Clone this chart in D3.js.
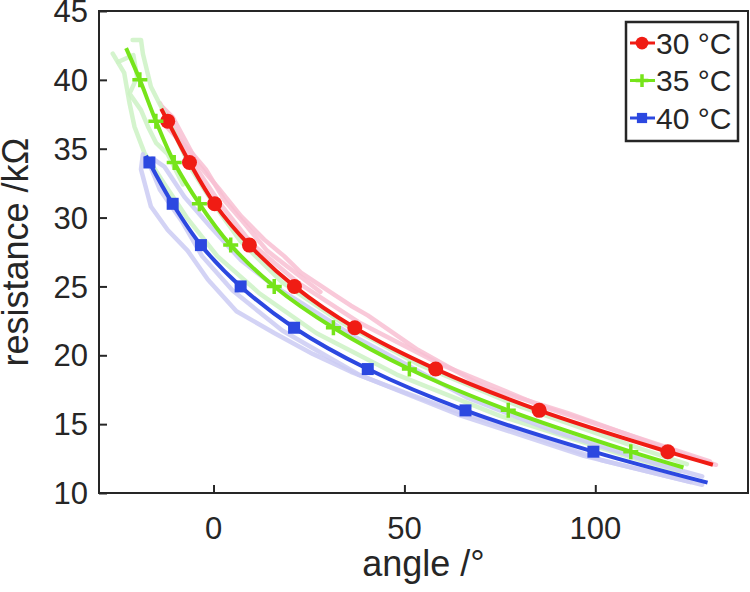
<!DOCTYPE html>
<html>
<head>
<meta charset="utf-8">
<script src="https://cdn.jsdelivr.net/npm/d3@7"></script>
<style>
  body { margin: 0; background: #fff; }
  text { font-family: "Liberation Sans", Arial, sans-serif; fill: #262626; }
</style>
</head>
<body>
<div id="chart"></div>
<script>
// fitted curves (angle in degrees, resistance in kOhm)
var angle30 = [-13.7, -12, -6.3, 0.3, 9.4, 21.2, 37, 58.2, 85.3, 119, 130.8];
var res30   = [37.9, 37, 34, 31, 28, 25, 22, 19, 16, 13, 12.05];
var angle35 = [-22.9, -19.3, -15.1, -10.3, -3.7, 4.5, 15.9, 31.4, 51.3, 77.2, 109.3, 123.1];
var res35   = [42.3, 40, 37, 34, 31, 28, 25, 22, 19, 16, 13, 11.85];
var angle40 = [-17.7, -16.8, -10.7, -3.3, 7.1, 21.1, 40.4, 66, 99.5, 129.4];
var res40   = [34.5, 34, 31, 28, 25, 22, 19, 16, 13, 10.75];

// raw measurement traces behind the fits
var trace30a_x = [-13.3, -10.7, -4.1, 1.1, 7.2, 13.3, 18.5, 22.9, 31.6, 36, 40.4, 53.5, 70.9, 92.8, 119, 131.6];
var trace30a_y = [38, 37.3, 33.9, 32.2, 30.1, 28.4, 27.2, 26, 24.4, 23.6, 22.9, 20.4, 17.7, 15.8, 13.2, 12.05];
var trace30b_x = [-14, -11, -5, 2, 10, 22, 38, 59, 86, 120, 130];
var trace30b_y = [38.3, 36.8, 33.8, 30.9, 28.1, 25.3, 22.4, 19.4, 16.3, 13.2, 12.3];
var trace30c_x = [-12, -9, -6, -2, 3, 8, 14, 20, 28];
var trace30c_y = [36.5, 35.6, 34.8, 33.5, 31.2, 29.6, 27.6, 26.3, 24.6];

var trace35a_x = [-26.4, -23.4, -22, -20.7, -18.1, -13, -7, 1, 12, 27, 48, 75, 108, 122];
var trace35a_y = [41.9, 40.5, 38.3, 36.6, 34.7, 32.5, 30, 27.2, 24.5, 21.6, 18.6, 15.6, 12.7, 11.6];
var trace35b_x = [-21.2, -19, -18.5, -16.4, -12.9, -10.7, -6, 0, 7, 18, 34, 54, 80, 112, 124];
var trace35b_y = [42.9, 42.9, 41.9, 39.5, 37.6, 36.4, 33.6, 31, 28.3, 25.3, 22.3, 19.3, 16.3, 13.2, 12.1];
var trace35c_x = [-25, -21, -20, -22, -19, -17, -15, -12, -8];
var trace35c_y = [41.3, 41.8, 40.2, 39, 37.8, 36.5, 35.4, 34.6, 32.4];

var trace40a_x = [-18.5, -19, -16.4, -12, -6.8, -1.5, 6, 16, 26, 36, 50, 62, 75, 88, 101.5, 128];
var trace40a_y = [34.6, 33.5, 30.8, 29.1, 27.6, 25.5, 23.2, 21.6, 20.1, 18.8, 17.3, 16.1, 14.9, 13.7, 12.4, 10.6];
var trace40b_x = [-16, -12.9, -7.6, -0.7, 7.2, 16, 23, 36, 50, 66.6, 90, 115, 128];
var trace40b_y = [34.3, 33.7, 31.5, 29.3, 26.9, 25, 23.8, 21.5, 19.4, 16.9, 14.4, 12.2, 11.2];
var trace40c_x = [-17, -14, -8, -3, 5, 18, 38, 64, 97, 125];
var trace40c_y = [34, 32, 29.6, 27.2, 24.7, 21.8, 18.6, 15.7, 12.7, 10.8];

var legendLabels = ["30 °C", "35 °C", "40 °C"];
var xTicks = [0, 50, 100];
var yTicks = [10, 15, 20, 25, 30, 35, 40, 45];

// set the dimensions of the graph
var width = 750, height = 592;
var margin = {top: 11, right: 748, bottom: 493, left: 99};

var x = d3.scaleLinear().domain([-30, 140]).range([margin.left, margin.right]);
var y = d3.scaleLinear().domain([10, 45]).range([margin.bottom, margin.top]);

var colors = ["#f01c14", "#76e41a", "#2c48e0"];
var pale = ["#f8bfd2", "#cdf2c4", "#cbcbf3"];

function zip(xs, ys) { return xs.map(function(v, i) { return [v, ys[i]]; }); }

var series = [
  { pts: zip(angle30, res30), shape: "circle" },
  { pts: zip(angle35, res35), shape: "plus" },
  { pts: zip(angle40, res40), shape: "square" }
];
var traces = [
  { pts: zip(trace30a_x, trace30a_y), c: 0 },
  { pts: zip(trace30b_x, trace30b_y), c: 0 },
  { pts: zip(trace30c_x, trace30c_y), c: 0 },
  { pts: zip(trace35a_x, trace35a_y), c: 1 },
  { pts: zip(trace35b_x, trace35b_y), c: 1 },
  { pts: zip(trace35c_x, trace35c_y), c: 1 },
  { pts: zip(trace40a_x, trace40a_y), c: 2 },
  { pts: zip(trace40b_x, trace40b_y), c: 2 },
  { pts: zip(trace40c_x, trace40c_y), c: 2 }
];

var svg = d3.select("#chart").append("svg")
    .attr("width", width)
    .attr("height", height);

var plot = svg.append("g");

var rawLine = d3.line()
    .x(function(d) { return x(d[0]); })
    .y(function(d) { return y(d[1]); });

var fitLine = d3.line()
    .curve(d3.curveCatmullRom.alpha(0.5))
    .x(function(d) { return x(d[0]); })
    .y(function(d) { return y(d[1]); });

// faint raw traces
plot.selectAll(".trace")
    .data(traces)
  .enter().append("path")
    .attr("class", "trace")
    .attr("d", function(d) { return rawLine(d.pts); })
    .style("fill", "none")
    .style("stroke", function(d) { return pale[d.c]; })
    .style("stroke-width", 4.5)
    .style("stroke-linejoin", "round")
    .style("stroke-linecap", "round")
    .style("opacity", 0.85);

// fitted lines
series.forEach(function(s, i) {
  plot.append("path")
      .datum(s.pts)
      .attr("d", fitLine)
      .style("fill", "none")
      .style("stroke", colors[i])
      .style("stroke-width", 4);
});

function drawMarker(g, shape, color, sz) {
  if (shape === "circle") {
    g.append("circle").attr("r", 7.5 * sz).style("fill", color);
  } else if (shape === "plus") {
    var h = 7.5 * sz;
    g.append("path").attr("d", "M" + (-h) + ",0H" + h + "M0," + (-h) + "V" + h)
        .style("stroke", color).style("stroke-width", 3.5).style("fill", "none");
  } else {
    var s = 6 * sz;
    g.append("rect").attr("x", -s).attr("y", -s)
        .attr("width", 2 * s).attr("height", 2 * s).style("fill", color);
  }
}

// markers, skipping the two ends of each fit
series.forEach(function(s, i) {
  s.pts.slice(1, -1).forEach(function(p) {
    var g = plot.append("g")
        .attr("transform", "translate(" + x(p[0]) + "," + y(p[1]) + ")");
    drawMarker(g, s.shape, colors[i], 1);
  });
});

// axes with inward ticks
svg.append("g")
    .attr("transform", "translate(0," + margin.bottom + ")")
    .call(d3.axisTop(x).tickValues(xTicks).tickSize(8).tickFormat(""))
    .call(function(g) { g.select(".domain").remove(); });

svg.append("g")
    .attr("transform", "translate(" + margin.left + ",0)")
    .call(d3.axisRight(y).tickValues(yTicks).tickSize(8).tickFormat(""))
    .call(function(g) { g.select(".domain").remove(); });

svg.selectAll(".tick line").style("stroke", "#262626").style("stroke-width", 2);

svg.selectAll(".xlab")
    .data(xTicks)
  .enter().append("text")
    .attr("x", function(d) { return x(d); })
    .attr("y", margin.bottom + 46)
    .style("text-anchor", "middle")
    .style("font-size", "31px")
    .text(function(d) { return d; });

svg.selectAll(".ylab")
    .data(yTicks)
  .enter().append("text")
    .attr("x", margin.left - 11)
    .attr("y", function(d) { return y(d); })
    .attr("dy", "0.36em")
    .style("text-anchor", "end")
    .style("font-size", "31px")
    .text(function(d) { return d; });

// box
svg.append("rect")
    .attr("x", margin.left).attr("y", margin.top)
    .attr("width", margin.right - margin.left).attr("height", margin.bottom - margin.top)
    .style("fill", "none")
    .style("stroke", "#262626")
    .style("stroke-width", 2);

// axis titles
svg.append("text")
    .attr("x", (margin.left + margin.right) / 2)
    .attr("y", 576)
    .style("text-anchor", "middle")
    .style("font-size", "36px")
    .text("angle /°");

svg.append("text")
    .attr("transform", "translate(28," + (margin.top + margin.bottom) / 2 + ") rotate(-90)")
    .style("text-anchor", "middle")
    .style("font-size", "36px")
    .text("resistance /kΩ");

// legend
var lg = svg.append("g");
lg.append("rect")
    .attr("x", 626).attr("y", 22)
    .attr("width", 112).attr("height", 119)
    .style("fill", "#fff")
    .style("stroke", "#262626")
    .style("stroke-width", 2.5);

var rows = lg.selectAll(".legend")
    .data(legendLabels)
  .enter().append("g")
    .attr("class", "legend")
    .attr("transform", function(d, i) { return "translate(0," + (43 + i * 37.5) + ")"; });

rows.append("line")
    .attr("x1", 630).attr("x2", 655)
    .style("stroke", function(d, i) { return colors[i]; })
    .style("stroke-width", 3);

rows.each(function(d, i) {
  var g = d3.select(this).append("g").attr("transform", "translate(642,0)");
  drawMarker(g, series[i].shape, colors[i], 0.85);
});

rows.append("text")
    .attr("x", 656)
    .attr("dy", "0.36em")
    .style("font-size", "30px")
    .text(function(d) { return d; });
</script>
</body>
</html>
